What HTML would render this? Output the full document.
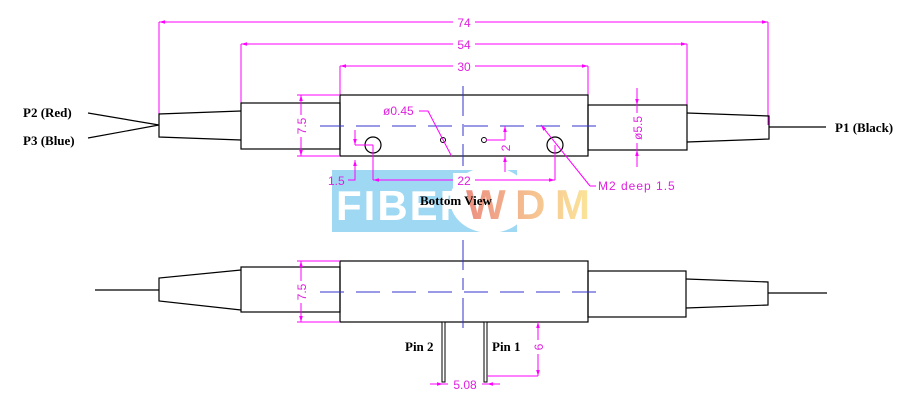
<!DOCTYPE html>
<html><head><meta charset="utf-8"><style>
body{margin:0;background:#fff}
svg{display:block}
.m{stroke:#f0f;fill:none;stroke-width:1}
.k{stroke:#000;fill:none;stroke-width:1.2}
.b{stroke:#33c;fill:none;stroke-width:1}
.mt{fill:#e020e0;font-family:"Liberation Sans",sans-serif;font-size:12px}
.bt{font-family:"Liberation Serif",serif;font-weight:bold;font-size:13px;fill:#000}
</style></head><body>
<svg width="923" height="403" viewBox="0 0 923 403" xmlns="http://www.w3.org/2000/svg">
<defs>
<marker id="a" viewBox="0 0 10 10" refX="10" refY="5" markerWidth="8" markerHeight="6" orient="auto-start-reverse"><path d="M0,2L10,5L0,8z" fill="#f0f"/></marker>
<linearGradient id="g" x1="0" x2="1"><stop offset="0" stop-color="#ec8f80"/><stop offset="0.5" stop-color="#f5c090"/><stop offset="1" stop-color="#fbe79a"/></linearGradient>
</defs>
<!-- watermark -->
<rect x="332" y="170" width="185" height="62" fill="#9fd8f3"/>
<ellipse cx="490" cy="200" rx="40" ry="33" fill="#fff"/>
<text x="336" y="220" font-family="Liberation Sans,sans-serif" font-weight="bold" font-size="42" fill="#fff" letter-spacing="2">FIBER</text>
<text x="466" y="219" font-family="Liberation Sans,sans-serif" font-weight="bold" font-size="42" fill="url(#g)" letter-spacing="4" textLength="128">WDM</text>

<!-- top dims -->
<line class="m" x1="159" y1="22" x2="768" y2="22" marker-start="url(#a)" marker-end="url(#a)"/>
<path class="m" d="M159,22V125M768,22V125"/>
<line class="m" x1="241" y1="44" x2="687" y2="44" marker-start="url(#a)" marker-end="url(#a)"/>
<path class="m" d="M241,44V103M687,44V105"/>
<line class="m" x1="340" y1="66" x2="588" y2="66" marker-start="url(#a)" marker-end="url(#a)"/>
<path class="m" d="M340,66V95M588,66V105"/>
<rect x="453" y="14" width="22" height="14" fill="#fff"/><text class="mt" x="464" y="27" text-anchor="middle">74</text>
<rect x="453" y="36" width="22" height="14" fill="#fff"/><text class="mt" x="464" y="49" text-anchor="middle">54</text>
<rect x="453" y="58" width="22" height="14" fill="#fff"/><text class="mt" x="464" y="71" text-anchor="middle">30</text>

<!-- top view -->
<rect class="k" x="340" y="95" width="248" height="61"/>
<rect class="k" x="241" y="103" width="99" height="46"/>
<path class="k" d="M241,111L159,114V137L241,140"/>
<path class="k" d="M159,125L88,113M159,125L88,138"/>
<rect class="k" x="588" y="105" width="99" height="45"/>
<path class="k" d="M687,113L769,116V139L687,142"/>
<path class="k" d="M769,127H826"/>
<text class="bt" x="23" y="117">P2 (Red)</text>
<text class="bt" x="23" y="145">P3 (Blue)</text>
<text class="bt" x="835" y="132">P1 (Black)</text>
<path class="b" d="M320,126H608" stroke-dasharray="24,12"/>
<path class="b" d="M463,86V166" stroke-dasharray="30,8,12,8"/>
<circle class="k" cx="373" cy="145" r="8"/>
<circle class="k" cx="555" cy="145" r="8"/>
<circle cx="443" cy="140" r="2.5" fill="none" stroke="#000"/>
<circle cx="484" cy="140" r="2.5" fill="none" stroke="#000"/>
<!-- 7.5 -->
<path class="m" d="M297,95H340M297,156H340"/>
<line class="m" x1="301" y1="95" x2="301" y2="156" marker-start="url(#a)" marker-end="url(#a)"/>
<rect x="294" y="115" width="14" height="22" fill="#fff"/>
<text class="mt" transform="translate(306,126) rotate(-90)" text-anchor="middle">7.5</text>
<!-- 5.5 -->
<line class="m" x1="637" y1="88" x2="637" y2="105" marker-end="url(#a)"/>
<line class="m" x1="637" y1="167" x2="637" y2="150" marker-end="url(#a)"/>
<path class="m" d="M637,105V150"/>
<rect x="630" y="113" width="14" height="30" fill="#fff"/>
<text class="mt" transform="translate(642,128) rotate(-90)" text-anchor="middle">ø5.5</text>
<!-- 1.5 -->
<line class="m" x1="355" y1="175" x2="355" y2="160" marker-end="url(#a)"/>
<line class="m" x1="355" y1="130" x2="355" y2="145" marker-end="url(#a)"/>
<path class="m" d="M355,145H373M355,160V180H348"/>
<text class="mt" x="328" y="185">1.5</text>
<!-- 22 -->
<line class="m" x1="373" y1="180" x2="555" y2="180" marker-start="url(#a)" marker-end="url(#a)"/>
<path class="m" d="M373,145V180M555,145V180"/>
<rect x="453" y="173" width="22" height="14" fill="#fff"/><text class="mt" x="464" y="185" text-anchor="middle">22</text>
<!-- 2 -->
<path class="m" d="M486,140H505"/>
<line class="m" x1="505" y1="126" x2="505" y2="140" marker-start="url(#a)"/>
<line class="m" x1="505" y1="172" x2="505" y2="156" marker-end="url(#a)"/>
<text class="mt" transform="translate(510,148) rotate(-90)" text-anchor="middle">2</text>
<!-- ø0.45 -->
<text class="mt" x="383" y="115">ø0.45</text>
<path class="m" d="M419,111H428L452,157"/>
<!-- M2 -->
<line class="m" x1="590" y1="186" x2="541" y2="125" marker-end="url(#a)"/>
<path class="m" d="M590,186H596"/>
<text class="mt" x="598" y="190" letter-spacing="1">M2 deep 1.5</text>
<text class="bt" x="420" y="205" font-size="14">Bottom View</text>

<!-- bottom view -->
<rect class="k" x="340" y="261" width="248" height="61"/>
<rect class="k" x="241" y="267" width="99" height="45"/>
<path class="k" d="M241,270L159,278V301L241,310"/>
<path class="k" d="M95,290H159"/>
<rect class="k" x="588" y="271" width="98" height="46"/>
<path class="k" d="M686,279L768,282V305L686,308"/>
<path class="k" d="M768,293H827"/>
<path class="b" d="M320,292H608" stroke-dasharray="24,12"/>
<path class="b" d="M463,240V336" stroke-dasharray="30,8,12,8"/>
<path class="m" d="M297,261H340M297,322H340"/>
<line class="m" x1="301" y1="261" x2="301" y2="322" marker-start="url(#a)" marker-end="url(#a)"/>
<rect x="294" y="281" width="14" height="22" fill="#fff"/>
<text class="mt" transform="translate(306,292) rotate(-90)" text-anchor="middle">7.5</text>
<rect x="442" y="322" width="3" height="60" fill="#fff" stroke="#000"/>
<rect x="484" y="322" width="3" height="60" fill="#fff" stroke="#000"/>
<text class="bt" x="405" y="351">Pin 2</text>
<text class="bt" x="492" y="351">Pin 1</text>
<path class="m" d="M487,376H538"/>
<line class="m" x1="538" y1="322" x2="538" y2="376" marker-start="url(#a)" marker-end="url(#a)"/>
<rect x="532" y="340" width="14" height="14" fill="#fff"/>
<text class="mt" transform="translate(543,347) rotate(-90)" text-anchor="middle">6</text>
<line class="m" x1="430" y1="384" x2="443" y2="384" marker-end="url(#a)"/>
<line class="m" x1="500" y1="384" x2="487" y2="384" marker-end="url(#a)"/>
<path class="m" d="M443,384H448M482,384H487"/>
<text class="mt" x="465" y="389" text-anchor="middle">5.08</text>
</svg>
</body></html>
